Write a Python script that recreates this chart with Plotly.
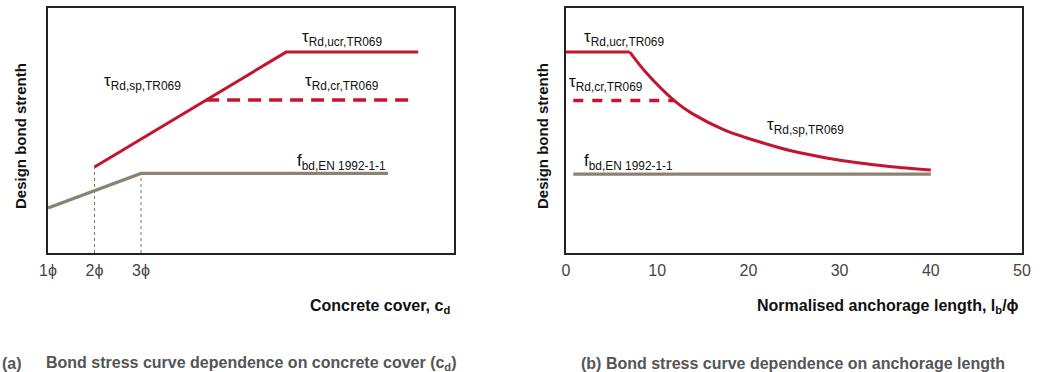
import plotly.graph_objects as go

# ---------------- data: panel (a) concrete cover ----------------
a_tick_vals = [1, 2, 3]
a_tick_text = ["1\u03d5", "2\u03d5", "3\u03d5"]
a_sp_x = [2.0, 6.12, 8.96]            # tau_Rd,sp rising then tau_Rd,ucr plateau
a_sp_y = [3.51, 8.20, 8.20]
a_cr_x = [4.40, 8.81]                 # tau_Rd,cr (dashed)
a_cr_y = [6.24, 6.24]
a_fbd_x = [1.0, 3.0, 8.31]            # f_bd EN 1992-1-1
a_fbd_y = [1.84, 3.25, 3.25]
a_guide_x = [2.0, 3.0]                # vertical guide lines
a_guide_top = [3.51, 3.25]

# ---------------- data: panel (b) anchorage length ----------------
b_tick_vals = [0, 10, 20, 30, 40, 50]
b_ucr_x = [0.0, 7.0]
b_ucr_y = [8.20, 8.20]
b_sp_x = [7.0, 8.7, 12.0, 13.8, 17.4, 21.1, 24.8, 28.4, 32.0, 35.7, 40.0]
b_sp_y = [8.20, 7.40, 6.18, 5.70, 5.02, 4.55, 4.16, 3.89, 3.68, 3.52, 3.39]
b_cr_x = [0.8, 11.9]
b_cr_y = [6.22, 6.22]
b_fbd_x = [0.8, 40.0]
b_fbd_y = [3.22, 3.22]

RED = "#c4142e"
TAUPE = "#8b8274"
FONT = "Liberation Sans, Arial, Helvetica, sans-serif"

fig = go.Figure()

# panel (a)
gx, gy = [], []
for xv, top in zip(a_guide_x, a_guide_top):
    gx += [xv, xv, None]
    gy += [0, top, None]
fig.add_trace(go.Scatter(x=gx, y=gy, mode="lines", xaxis="x", yaxis="y",
                         line=dict(color="#777777", width=1, dash="3px,3px")))
fig.add_trace(go.Scatter(x=a_fbd_x, y=a_fbd_y, mode="lines", xaxis="x", yaxis="y",
                         line=dict(color=TAUPE, width=3.2)))
fig.add_trace(go.Scatter(x=a_sp_x, y=a_sp_y, mode="lines", xaxis="x", yaxis="y",
                         line=dict(color=RED, width=3)))
fig.add_trace(go.Scatter(x=a_cr_x, y=a_cr_y, mode="lines", xaxis="x", yaxis="y",
                         line=dict(color=RED, width=3.5, dash="13px,8px")))

# panel (b)
fig.add_trace(go.Scatter(x=b_fbd_x, y=b_fbd_y, mode="lines", xaxis="x2", yaxis="y2",
                         line=dict(color=TAUPE, width=3.2)))
fig.add_trace(go.Scatter(x=b_ucr_x, y=b_ucr_y, mode="lines", xaxis="x2", yaxis="y2",
                         line=dict(color=RED, width=3)))
fig.add_trace(go.Scatter(x=b_sp_x, y=b_sp_y, mode="lines", xaxis="x2", yaxis="y2",
                         line=dict(color=RED, width=3, shape="spline", smoothing=0.8)))
fig.add_trace(go.Scatter(x=b_cr_x, y=b_cr_y, mode="lines", xaxis="x2", yaxis="y2",
                         line=dict(color=RED, width=3.5, dash="10px,9px")))

ann_font = dict(family=FONT, size=17, color="#111111")
labels = [
    ("x", "y", 6.42, 8.78, "\u03c4<sub>Rd,ucr,TR069</sub>"),
    ("x", "y", 2.16, 6.98, "\u03c4<sub>Rd,sp,TR069</sub>"),
    ("x", "y", 6.48, 6.98, "\u03c4<sub>Rd,cr,TR069</sub>"),
    ("x", "y", 6.31, 3.72, "f<sub>bd,EN 1992-1-1</sub>"),
    ("x2", "y2", 1.75, 8.78, "\u03c4<sub>Rd,ucr,TR069</sub>"),
    ("x2", "y2", 0.15, 6.95, "\u03c4<sub>Rd,cr,TR069</sub>"),
    ("x2", "y2", 21.8, 5.18, "\u03c4<sub>Rd,sp,TR069</sub>"),
    ("x2", "y2", 1.75, 3.72, "f<sub>bd,EN 1992-1-1</sub>"),
]
annotations = []
for xr, yr, xv, yv, t in labels:
    annotations.append(dict(xref=xr, yref=yr, x=xv, y=yv, text=t, showarrow=False,
                            xanchor="left", yanchor="middle", font=ann_font))

W, H = 1040, 372
def px(xp):
    return xp / W
def py(yp):
    return 1 - yp / H

title_font = dict(family=FONT, size=16, color="#111111")
ytitle_font = dict(family=FONT, size=15, color="#111111")
cap_font = dict(family=FONT, size=16, color="#555555")
annotations += [
    dict(xref="paper", yref="paper", x=px(20), y=py(136), text="<b>Design bond strenth</b>",
         textangle=-90, showarrow=False, xanchor="center", yanchor="middle", font=ytitle_font),
    dict(xref="paper", yref="paper", x=px(542), y=py(136), text="<b>Design bond strenth</b>",
         textangle=-90, showarrow=False, xanchor="center", yanchor="middle", font=ytitle_font),
    dict(xref="paper", yref="paper", x=px(452), y=py(306), text="<b>Concrete cover, c<sub>d</sub></b>",
         showarrow=False, xanchor="right", yanchor="middle", font=title_font),
    dict(xref="paper", yref="paper", x=px(1021), y=py(306),
         text="<b>Normalised anchorage length, l<sub>b</sub>/\u03d5</b>",
         showarrow=False, xanchor="right", yanchor="middle", font=title_font),
    dict(xref="paper", yref="paper", x=px(0), y=py(363), text="<b>(a)</b>",
         showarrow=False, xanchor="left", yanchor="middle", font=cap_font),
    dict(xref="paper", yref="paper", x=px(44), y=py(363),
         text="<b>Bond stress curve dependence on concrete cover (c<sub>d</sub>)</b>",
         showarrow=False, xanchor="left", yanchor="middle", font=cap_font),
    dict(xref="paper", yref="paper", x=px(579), y=py(363),
         text="<b>(b) Bond stress curve dependence on anchorage length</b>",
         showarrow=False, xanchor="left", yanchor="middle", font=cap_font),
]

frame = dict(showline=True, mirror=True, linecolor="#222222", linewidth=2,
             showgrid=False, zeroline=False, automargin=False)
tick_font = dict(family=FONT, size=16, color="#444444")

fig.update_layout(
    template="none",
    width=W, height=H, margin=dict(l=0, r=0, t=0, b=0, pad=0, autoexpand=False),
    paper_bgcolor="white", plot_bgcolor="white", showlegend=False,
    annotations=annotations,
    xaxis=dict(domain=[px(48), px(454)], range=[1, 9.73], tickvals=a_tick_vals, ticktext=a_tick_text,
               ticks="", ticklabelstandoff=2, tickfont=tick_font, anchor="y", **frame),
    yaxis=dict(domain=[py(253), py(8)], range=[0, 10], showticklabels=False, ticks="", anchor="x", **frame),
    xaxis2=dict(domain=[px(566), px(1022)], range=[0, 50], tickvals=b_tick_vals,
                ticks="", ticklabelstandoff=2, tickfont=tick_font, anchor="y2", **frame),
    yaxis2=dict(domain=[py(253), py(8)], range=[0, 10], showticklabels=False, ticks="", anchor="x2", **frame),
)

fig.write_html("out.html", config={"displayModeBar": False},
               post_script="document.body.style.margin='0';document.body.style.overflow='hidden';")
